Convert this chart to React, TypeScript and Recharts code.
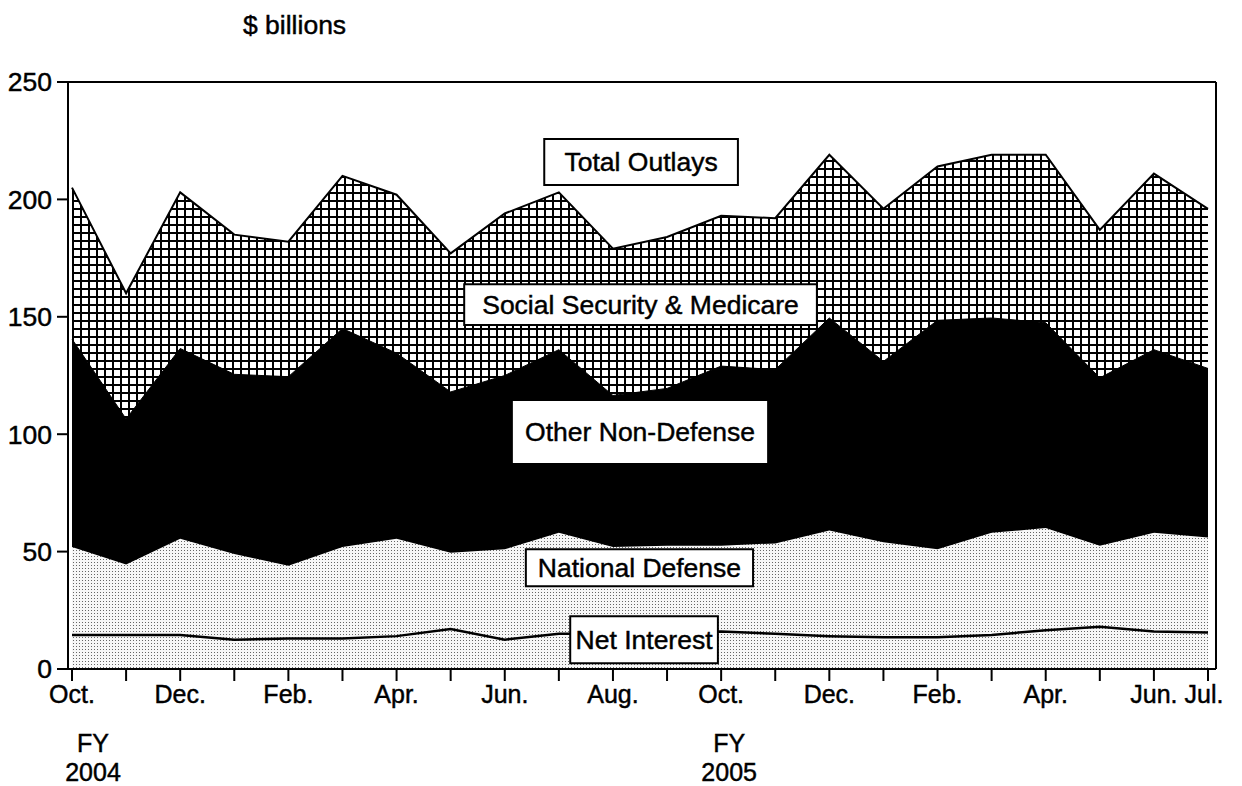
import { AreaChart, Area, XAxis, YAxis, ReferenceArea, ReferenceLine } from 'recharts'

// Oct. 2003 (start of FY 2004) through Jul. 2005, $ billions
const months = [
  'Oct. 2003', 'Nov. 2003', 'Dec. 2003', 'Jan. 2004', 'Feb. 2004', 'Mar. 2004',
  'Apr. 2004', 'May 2004', 'Jun. 2004', 'Jul. 2004', 'Aug. 2004', 'Sep. 2004',
  'Oct. 2004', 'Nov. 2004', 'Dec. 2004', 'Jan. 2005', 'Feb. 2005', 'Mar. 2005',
  'Apr. 2005', 'May 2005', 'Jun. 2005', 'Jul. 2005',
]

const tickLabels = [
  'Oct.', '', 'Dec.', '', 'Feb.', '', 'Apr.', '', 'Jun.', '', 'Aug.', '',
  'Oct.', '', 'Dec.', '', 'Feb.', '', 'Apr.', '', 'Jun.', 'Jul.',
]

const fiscalYears: Record<number, string> = { 0: '2004', 12: '2005' }

// cumulative levels (each band sits on the one below it)
const totalOutlays = [205, 160, 203, 185, 182, 210, 202, 177, 194, 203, 179, 184, 193, 192, 219, 196, 214, 219, 219, 187, 211, 196]
const throughOtherNonDefense = [140.5, 106.5, 136.5, 125.5, 124.5, 145, 134.5, 118, 125, 136, 116.5, 119.5, 129, 127.5, 149.5, 131, 148.5, 149.5, 147.5, 124, 136, 128]
const throughNationalDefense = [52, 44.5, 55.5, 49, 44, 52, 55.5, 49.5, 51, 58, 52, 52.5, 52.5, 53.5, 59, 54, 51, 58, 60, 52.5, 58, 56]
const netInterest = [14.5, 14.5, 14.5, 12.5, 13, 13, 14, 17, 12.5, 15, 15, 15.5, 16, 15, 14, 13.5, 13.5, 14.5, 16.5, 18, 16, 15.5]

const yTicks = [0, 50, 100, 150, 200, 250]

const data = months.map((month, i) => ({
  i,
  month,
  total: totalOutlays[i],
  other: throughOtherNonDefense[i],
  defense: throughNationalDefense[i],
  interest: netInterest[i],
}))

const FONT = '"Liberation Sans", Arial, Helvetica, sans-serif'
const INK = 0.45 // slight stroke so the type looks as heavy as the scan

const MonthTick = (props: any) => {
  const { x, y, payload } = props
  const idx = payload.value as number
  const label = tickLabels[idx]
  const fy = fiscalYears[idx]
  const fyShift = idx === 0 ? 21 : 8
  const textProps = { textAnchor: 'middle' as const, fill: '#000', stroke: '#000', strokeWidth: INK, fontSize: 25, fontFamily: FONT }
  return (
    <g>
      <text x={idx === 21 ? x - 4 : x} y={y + 18} {...textProps}>
        {label}
      </text>
      {fy && (
        <text x={x + fyShift} y={y + 67} {...textProps}>
          <tspan x={x + fyShift}>FY</tspan>
          <tspan x={x + fyShift} dy={29}>{fy}</tspan>
        </text>
      )}
    </g>
  )
}

const boxLabel = (value: string) => ({
  value,
  position: 'center' as const,
  fill: '#000',
  stroke: '#000',
  strokeWidth: INK,
  fontSize: 26.5,
  fontFamily: FONT,
})

export default function App() {
  return (
    <div style={{ position: 'absolute', left: 0, top: 0, width: 1242, height: 786, background: '#fff', fontFamily: FONT }}>
      <div
        style={{
          position: 'absolute', left: 243, top: 10, fontSize: 26.5, lineHeight: '30px', color: '#000',
          WebkitTextStroke: `${INK}px #000`,
        }}
      >
        $ billions
      </div>
      <AreaChart width={1242} height={786} data={data} margin={{ top: 82, right: 25, bottom: 17, left: 0 }}>
        <defs>
          <pattern id="crosshatch" width={8} height={8} patternUnits="userSpaceOnUse">
            <rect width={8} height={8} fill="#fff" />
            <rect x={0} y={0} width={8} height={2} fill="#000" />
            <rect x={0} y={0} width={2} height={8} fill="#000" />
          </pattern>
          <pattern id="dots" width={3} height={3} patternUnits="userSpaceOnUse">
            <rect width={3} height={3} fill="#f7f7f7" />
            <rect x={1} y={1} width={1} height={1} fill="#666" />
          </pattern>
        </defs>
        <XAxis
          type="number"
          dataKey="i"
          domain={[0, 21]}
          ticks={months.map((_, i) => i)}
          interval={0}
          tickSize={12}
          tickMargin={4}
          padding={{ left: 4, right: 8 }}
          height={100}
          axisLine={{ stroke: '#000', strokeWidth: 2 }}
          tickLine={{ stroke: '#000', strokeWidth: 2 }}
          tick={<MonthTick />}
        />
        <YAxis
          domain={[0, 250]}
          ticks={yTicks}
          interval={0}
          width={68}
          tickSize={11}
          tickMargin={5}
          axisLine={{ stroke: '#000', strokeWidth: 2 }}
          tickLine={{ stroke: '#000', strokeWidth: 2 }}
          tick={{ fill: '#000', stroke: '#000', strokeWidth: INK, fontSize: 26.5, fontFamily: FONT }}
        />
        <YAxis
          yAxisId="right"
          orientation="right"
          domain={[0, 250]}
          width={1}
          tick={false}
          tickLine={false}
          axisLine={{ stroke: '#000', strokeWidth: 2 }}
        />
        <Area type="linear" dataKey="total" stroke="#000" strokeWidth={2} fill="url(#crosshatch)" fillOpacity={1} isAnimationActive={false} dot={false} activeDot={false} />
        <Area type="linear" dataKey="other" stroke="#000" strokeWidth={1} fill="#000" fillOpacity={1} isAnimationActive={false} dot={false} activeDot={false} />
        <Area type="linear" dataKey="defense" stroke="none" fill="url(#dots)" fillOpacity={1} isAnimationActive={false} dot={false} activeDot={false} />
        <Area type="linear" dataKey="interest" stroke="#000" strokeWidth={2.5} fill="url(#dots)" fillOpacity={1} isAnimationActive={false} dot={false} activeDot={false} />
        <ReferenceLine y={250} stroke="#000" strokeWidth={2} />
        <ReferenceArea x1={8.73} x2={12.31} y1={206.1} y2={225.7} fill="#fff" fillOpacity={1} stroke="#000" strokeWidth={2} label={boxLabel('Total Outlays')} />
        <ReferenceArea x1={7.25} x2={13.77} y1={146.5} y2={163.9} fill="#fff" fillOpacity={1} stroke="#000" strokeWidth={2} label={boxLabel('Social Security & Medicare')} />
        <ReferenceArea x1={8.15} x2={12.85} y1={87.7} y2={114.1} fill="#fff" fillOpacity={1} stroke="none" label={boxLabel('Other Non-Defense')} />
        <ReferenceArea x1={8.39} x2={12.59} y1={35.2} y2={51.0} fill="#fff" fillOpacity={1} stroke="#000" strokeWidth={2} label={boxLabel('National Defense')} />
        <ReferenceArea x1={9.21} x2={11.94} y1={2.4} y2={22.5} fill="#fff" fillOpacity={1} stroke="#000" strokeWidth={2} label={boxLabel('Net Interest')} />
      </AreaChart>
    </div>
  )
}
